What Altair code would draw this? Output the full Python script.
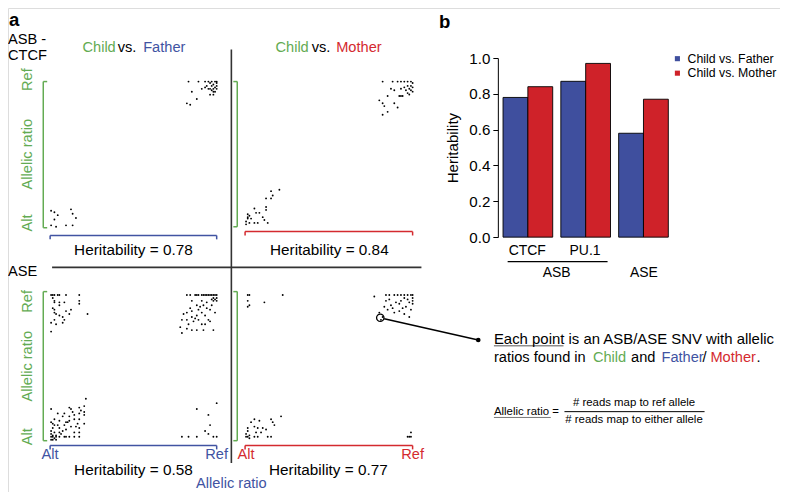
import altair as alt
import pandas as pd

# ---------------- data ----------------
# panel a: (parent allelic ratio, child allelic ratio)
ctcf_father = [(0.83,1.0),(0.89,1.0),(0.93,1.0),(0.95,1.0),(0.96,0.99),(0.97,1.0),(0.98,0.98),(0.99,1.0),(1.0,0.99),
               (0.97,0.97),(0.99,0.96),(1.0,0.97),(0.98,0.95),(1.0,0.95),(0.96,0.95),(0.93,0.96),(0.95,0.95),(0.91,0.95),
               (0.98,0.93),(0.85,0.93),(0.96,0.91),(0.98,0.91),(0.88,0.88),(0.82,0.85),(0.84,0.84),(0.99,0.93),(0.97,0.94),
               (1.0,1.0),(0.94,0.97),
               (0.0,0.11),(0.02,0.10),(0.04,0.08),(0.02,0.05),(0.0,0.01),(0.03,0.0),(0.09,0.01),(0.13,0.01),(0.12,0.12),
               (0.13,0.09),(0.15,0.06)]
ctcf_mother = [(0.82,1.0),(0.88,1.0),(0.91,1.0),(0.93,1.0),(0.95,1.0),(0.97,1.0),(0.99,1.0),(1.0,0.99),(0.99,0.97),
               (1.0,0.96),(0.97,0.97),(0.95,0.96),(0.98,0.95),(0.96,0.94),(0.99,0.94),(0.93,0.95),(0.87,0.95),(0.89,0.94),
               (0.97,0.92),(0.85,0.90),(0.92,0.90),(0.93,0.90),(0.94,0.90),(0.80,0.87),(0.82,0.85),(0.83,0.83),(0.89,0.85),
               (0.91,0.82),(0.82,0.77),(0.85,0.79),(1.0,0.93),(0.98,0.91),
               (0.20,0.25),(0.15,0.24),(0.16,0.21),(0.15,0.19),(0.12,0.19),(0.12,0.13),(0.12,0.11),(0.05,0.12),(0.06,0.09),
               (0.08,0.09),(0.01,0.08),(0.01,0.06),(0.01,0.05),(0.0,0.03),(0.02,0.02),(0.05,0.02),(0.07,0.02),(0.10,0.06),
               (0.11,0.04),(0.13,0.02),(0.02,0.07),(0.03,0.05),(0.0,0.01)]
ase_father = [(0.0,0.99),(0.01,0.99),(0.02,0.99),(0.04,0.99),(0.05,0.99),(0.09,0.99),(0.17,0.99),(0.01,0.97),(0.02,0.95),
              (0.02,0.94),(0.05,0.94),(0.05,0.92),(0.08,0.94),(0.17,0.95),(0.17,0.93),(0.01,0.90),(0.02,0.89),(0.02,0.87),
              (0.03,0.86),(0.09,0.88),(0.12,0.89),(0.11,0.86),(0.05,0.85),(0.07,0.84),(0.08,0.82),(0.02,0.82),(0.03,0.79),
              (0.0,0.80),(0.07,0.80),(0.22,0.86),(0.0,0.74),
              (0.82,0.99),(0.84,0.99),(0.87,0.99),(0.88,0.99),(0.89,0.99),(0.91,0.99),(0.92,0.99),(0.93,0.99),(0.94,0.99),
              (0.95,0.99),(0.96,0.99),(0.97,0.99),(0.98,0.99),(0.99,0.99),(1.0,0.99),(0.98,0.97),(1.0,0.97),(0.99,0.96),
              (0.97,0.96),(1.0,0.95),(0.98,0.95),(0.85,0.95),(0.91,0.95),(0.88,0.92),(0.92,0.92),(0.94,0.90),(0.96,0.89),
              (0.89,0.89),(0.85,0.88),(0.82,0.87),(0.91,0.87),(0.80,0.86),(0.88,0.85),(0.93,0.85),(0.85,0.84),(0.89,0.82),
              (0.95,0.82),(0.79,0.82),(0.82,0.82),(0.86,0.81),(0.91,0.79),(0.83,0.79),(0.93,0.79),(0.78,0.77),(0.82,0.76),
              (0.85,0.75),(0.88,0.75),(0.79,0.73),(0.92,0.75),(0.98,0.75),(0.96,0.81),(0.99,0.87),(0.97,0.92),(0.94,0.94),
              (0.90,0.91),(0.87,0.83),(0.84,0.90),
              (0.21,0.28),(0.0,0.21),(0.11,0.22),(0.12,0.21),(0.17,0.22),(0.20,0.23),(0.18,0.20),(0.20,0.19),(0.04,0.18),
              (0.08,0.18),(0.14,0.17),(0.17,0.18),(0.20,0.17),(0.07,0.16),(0.11,0.16),(0.14,0.14),(0.17,0.14),(0.02,0.14),
              (0.05,0.13),(0.09,0.12),(0.20,0.11),(0.0,0.12),(0.02,0.10),(0.08,0.10),(0.12,0.09),(0.15,0.09),(0.01,0.08),
              (0.05,0.08),(0.09,0.07),(0.0,0.06),(0.02,0.05),(0.05,0.05),(0.14,0.05),(0.0,0.04),(0.01,0.03),(0.03,0.03),
              (0.0,0.02),(0.05,0.02),(0.0,0.0),(0.01,0.02),(0.02,0.01),(0.03,0.02),(0.08,0.02),(0.09,0.02),(0.11,0.02),
              (0.14,0.02),(0.17,0.02),(0.17,0.08),(0.17,0.05),(0.01,0.0),(0.03,0.0),(0.06,0.04),(0.10,0.12),(0.13,0.19),
              (0.04,0.10),(0.07,0.06),(0.11,0.13),(0.01,0.11),(0.16,0.11),
              (0.88,0.21),(1.0,0.25),(0.95,0.17),(0.96,0.10),(0.93,0.06),(0.95,0.04),(0.79,0.02),(0.83,0.02),(0.88,0.02),
              (0.98,0.02),(1.0,0.02)]
ase_mother = [(0.01,0.99),(0.02,0.99),(0.22,0.99),(0.01,0.95),(0.11,0.94),(0.02,0.92),(0.01,0.91),
              (0.77,0.98),(0.84,0.99),(0.86,0.99),(0.89,0.99),(0.91,0.99),(0.93,0.99),(0.95,0.99),(0.97,0.99),(0.99,0.99),
              (1.0,0.99),(1.0,0.97),(1.0,0.95),(1.0,0.93),(0.97,0.96),(0.95,0.97),(0.93,0.95),(0.98,0.94),(0.80,0.87),
              (0.82,0.84),(0.81,0.82),(0.84,0.95),(0.87,0.92),(0.88,0.90),(0.85,0.89),(0.89,0.87),(0.92,0.88),(0.94,0.90),
              (0.98,0.84),(0.96,0.91),(0.83,0.91),(0.86,0.96),(0.90,0.94),(0.92,0.93),(0.95,0.86),(0.99,0.89),
              (0.21,0.16),(0.05,0.14),(0.08,0.13),(0.15,0.14),(0.16,0.12),(0.03,0.12),(0.05,0.09),(0.07,0.08),(0.10,0.08),
              (0.12,0.07),(0.17,0.10),(0.01,0.08),(0.01,0.06),(0.0,0.04),(0.02,0.03),(0.0,0.02),(0.05,0.02),(0.07,0.02),
              (0.13,0.02),(0.15,0.02),(0.09,0.05),(0.06,0.05),(0.01,0.02),(0.02,0.01),
              (0.99,0.05),(0.97,0.02),(0.98,0.02),(0.99,0.02)]

# panel b
groups = ["CTCF", "PU.1", "ASE"]
series = ["Child vs. Father", "Child vs. Mother"]
her_father = [0.78, 0.87, 0.58]
her_mother = [0.84, 0.97, 0.77]
y_ticks = [0.0, 0.2, 0.4, 0.6, 0.8, 1.0]

# ---------------- layout helpers ----------------
W, H = 772, 484
KX, KY = W / 788, H / 500
def X(v): return v * KX
def Y(v): return v * KY
def FS(v): return v * 0.975

FONT = "Liberation Sans"
GREEN = "#63AB53"
BLUE = "#4153A2"
RED = "#D42A2F"
BAR_BLUE = "#3F4F9E"
BAR_RED = "#CF2229"
DARK = "#333333"

layers = []

# ---- scatter panels ----
def scatter(pts, x0, x1, y0, y1):
    df = pd.DataFrame(pts, columns=["parent", "child"])
    return alt.Chart(df).mark_circle(size=3.5, color="black", opacity=1).encode(
        x=alt.X("parent:Q", scale=alt.Scale(domain=[0, 1], range=[X(x0), X(x1)], nice=False, zero=False), axis=None),
        y=alt.Y("child:Q", scale=alt.Scale(domain=[0, 1], range=[Y(y0), Y(y1)], nice=False, zero=False), axis=None),
    )

layers.append(scatter(ctcf_father, 44, 213, 226, 76))
layers.append(scatter(ctcf_mother, 243, 413, 225, 76))
layers.append(scatter(ase_father, 44, 213, 446, 295))
layers.append(scatter(ase_mother, 243, 413, 446, 295))

# ---- bar chart ----
bar_df = pd.DataFrame({
    "group": groups * 2,
    "series": [series[0]] * 3 + [series[1]] * 3,
    "value": her_father + her_mother,
})
bars = alt.Chart(bar_df).mark_bar(stroke="black", strokeWidth=0.9, opacity=1).encode(
    x=alt.X("group:N", sort=groups,
            scale=alt.Scale(domain=groups, range=[X(505.3), X(674)], paddingInner=0.1407, paddingOuter=0),
            axis=None),
    xOffset=alt.XOffset("series:N", sort=series,
                        scale=alt.Scale(domain=series, paddingInner=0, paddingOuter=0)),
    y=alt.Y("value:Q",
            scale=alt.Scale(domain=[0, 1], range=[Y(236.7), Y(51.7)], nice=False, zero=True),
            axis=alt.Axis(offset=-X(500), values=y_ticks, format=".1f", grid=False,
                          tickSize=5, tickColor="black", tickWidth=1, domainColor="black", domainWidth=1,
                          labelColor="black", labelFontSize=FS(15.5), labelFont=FONT, labelPadding=3,
                          title="Heritability", titleFontSize=FS(15.5), titleFont=FONT,
                          titleFontWeight="normal", titleColor="black", titlePadding=8)),
    color=alt.Color("series:N", sort=series,
                    scale=alt.Scale(domain=series, range=[BAR_BLUE, BAR_RED]),
                    legend=alt.Legend(orient="none", legendX=X(677), legendY=Y(46), title=None,
                                      symbolType="square", symbolSize=26, symbolStrokeWidth=0,
                                      labelFontSize=12.3, labelFont=FONT, labelColor="black",
                                      labelOffset=4, rowPadding=1.5, padding=0)),
)
layers.append(bars)

# ---- decoration lines (reference-pixel layout) ----
segs = []
def seg(x1, y1, x2, y2, c, w=1.5):
    segs.append({"x": X(x1), "y": Y(y1), "x2": X(x2), "y2": Y(y2), "c": c, "w": w})

seg(228, 43, 228, 470, DARK, 1.6)
seg(45, 268, 422, 268, DARK, 1.6)
# green brackets
for (vx, tx, ya, yb) in [(36, 40, 76, 227), (234, 230, 76, 226), (36, 40, 293, 447), (234, 230, 293, 447)]:
    seg(vx, ya, vx, yb, GREEN)
    seg(vx, ya, tx, ya, GREEN)
    seg(vx, yb, tx, yb, GREEN)
# horizontal brackets
for (xa, xb, hy, c) in [(43, 213, 235, BLUE), (242, 413, 231, RED), (43, 213, 452, BLUE), (242, 413, 452, RED)]:
    seg(xa, hy, xb, hy, c)
    seg(xa, hy, xa, hy + 4, c)
    seg(xb, hy, xb, hy + 4, c)
# bar-group underline
seg(510, 262, 612, 262, "black", 1.2)
# connector
seg(384, 321, 480, 343, "black", 1.5)
# underlines
seg(496, 349, 567, 349, "#555555", 1)
seg(496, 423, 554, 423, "#555555", 0.8)
# fraction line
seg(568, 417, 711, 417, "black", 1)

seg_df = pd.DataFrame(segs)
layers.append(alt.Chart(seg_df).mark_rule().encode(
    x=alt.X("x:Q", scale=None), y=alt.Y("y:Q", scale=None),
    x2="x2:Q", y2="y2:Q",
    color=alt.Color("c:N", scale=None),
    strokeWidth=alt.StrokeWidth("w:Q", scale=None),
))

# highlight circle & end dot
dots = pd.DataFrame([{"x": X(380), "y": Y(320), "s": 55}])
layers.append(alt.Chart(dots).mark_point(shape="circle", filled=False, color="black", strokeWidth=1.3, opacity=1).encode(
    x=alt.X("x:Q", scale=None), y=alt.Y("y:Q", scale=None), size=alt.Size("s:Q", scale=None)))
dot2 = pd.DataFrame([{"x": X(480), "y": Y(343), "s": 22}])
layers.append(alt.Chart(dot2).mark_circle(color="black", opacity=1).encode(
    x=alt.X("x:Q", scale=None), y=alt.Y("y:Q", scale=None), size=alt.Size("s:Q", scale=None)))

# ---- text ----
texts = []
def T(x, y, s, c="black", size=15, align="left", weight="normal", angle=0):
    texts.append({"x": X(x), "y": Y(y), "t": s, "c": c, "fs": FS(size), "al": align, "wt": weight, "an": angle})

T(1, 12, "a", size=19, weight="bold")
T(440, 14, "b", size=19, weight="bold")
T(0, 33, "ASB -")
T(0, 50, "CTCF")
T(0, 273, "ASE")
# titles
T(76, 41, "Child", GREEN); T(112, 41, "vs.", "black"); T(138, 41, "Father", BLUE)
T(273, 41, "Child", GREEN); T(310, 41, "vs.", "black"); T(335, 41, "Mother", RED)
# heritability labels
T(128, 250, "Heritability = 0.78", align="center", size=15.7)
T(328, 250, "Heritability = 0.84", align="center", size=15.7)
T(128, 477, "Heritability = 0.58", align="center", size=15.7)
T(327, 477, "Heritability = 0.77", align="center", size=15.7)
# y labels rotated
for (yr, ya, yal) in [(74, 151, 222), (303, 370, 443)]:
    T(20, yr, "Ref", GREEN, align="center", angle=270)
    T(20, ya, "Allelic ratio", GREEN, align="center", angle=270)
    T(20, yal, "Alt", GREEN, align="center", angle=270)
# x labels
T(43, 462, "Alt", BLUE, align="center")
T(213, 462, "Ref", BLUE, align="center")
T(243, 462, "Alt", RED, align="center")
T(413, 462, "Ref", RED, align="center")
T(228, 492, "Allelic ratio", BLUE, align="center")
# panel b labels
T(530, 251, "CTCF", align="center", size=14.3)
T(589, 251, "PU.1", align="center", size=14.3)
T(560, 274, "ASB", align="center", size=14.3)
T(649, 274, "ASE", align="center", size=14.3)
# annotation
AS = 15.3
T(496, 343, "Each point is an ASB/ASE SNV with allelic", size=AS)
AS2 = 15.0
T(496, 362, "ratios found in", size=AS2)
T(597, 362, "Child", GREEN, size=AS2)
T(636, 362, "and", size=AS2)
T(667, 362, "Father", BLUE, size=AS2)
T(709, 362, "/", size=AS2)
T(717, 362, "Mother", RED, size=AS2)
T(764, 362, ".", size=AS2)
FSZ = 11.7
T(496, 417, "Allelic ratio =", size=FSZ)
T(639, 408, "# reads map to ref allele", size=FSZ, align="center")
T(639, 426, "# reads map to either allele", size=FSZ, align="center")

tdf = pd.DataFrame(texts)
for (al, wt, an), sub in tdf.groupby(["al", "wt", "an"]):
    layers.append(alt.Chart(sub).mark_text(align=al, baseline="middle", font=FONT, fontWeight=wt,
                                           angle=float(an)).encode(
        x=alt.X("x:Q", scale=None), y=alt.Y("y:Q", scale=None),
        text="t:N",
        color=alt.Color("c:N", scale=None),
        size=alt.Size("fs:Q", scale=None),
    ))

chart = alt.layer(*layers).resolve_scale(
    x="independent", y="independent", color="independent", size="independent"
).properties(
    width=W, height=H, padding=0, autosize=alt.AutoSizeParams(type="none")
).configure_view(stroke=None).configure(background="white")

chart.save("out.html", embed_options={"renderer": "svg", "actions": False})
